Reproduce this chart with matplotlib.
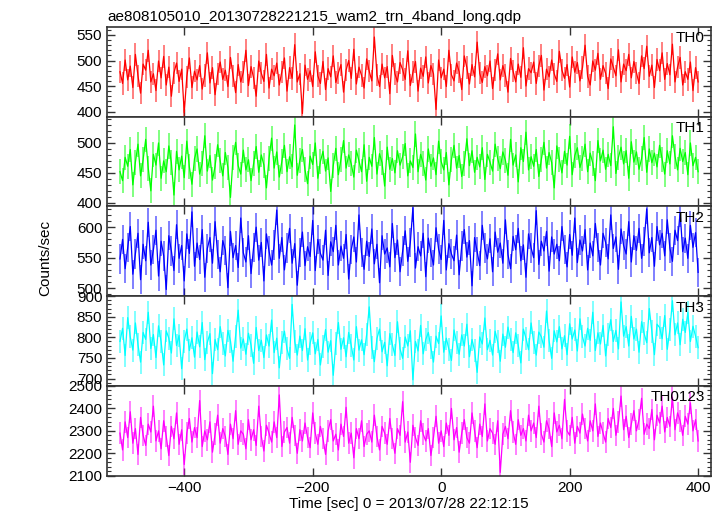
import numpy as np
import matplotlib
matplotlib.use("Agg")
import matplotlib.pyplot as plt
from matplotlib.ticker import MultipleLocator

plt.rcParams['font.family'] = ['Liberation Sans', 'DejaVu Sans']

title = "ae808105010_20130728221215_wam2_trn_4band_long.qdp"
names = ["TH0", "TH1", "TH2", "TH3", "TH0123"]
t_start, t_stop = -500, 400

# counts/sec (4 s steps)
th0 = [478, 455, 501, 462, 489, 447, 512, 470, 436, 493,
       481, 520, 458, 474, 441, 499, 466, 508, 452, 487,
       430, 476, 495, 459, 483, 398, 468, 505, 447, 479,
       462, 490, 444, 471, 515, 456, 486, 433, 474, 497,
       463, 481, 449, 506, 470, 437, 492, 458, 477, 520,
       451, 488, 466, 430, 499, 475, 459, 512, 446, 483,
       470, 495, 452, 478, 505, 440, 486, 465, 531, 458,
       474, 396, 491, 463, 480, 449, 517, 470, 455, 498,
       443, 484, 468, 509, 457, 476, 492, 438, 481, 500,
       465, 522, 454, 487, 471, 446, 503, 479, 460, 546,
       472, 449, 493, 466, 488, 435, 510, 474, 458, 496,
       482, 463, 519, 451, 477, 498, 440, 485, 469, 507,
       456, 490, 474, 404, 501, 466, 483, 449, 520, 472,
       460, 495, 478, 443, 509, 486, 454, 492, 468, 536,
       475, 457, 488, 470, 499, 445, 481, 513, 462, 490,
       471, 438, 504, 479, 458, 493, 467, 525, 450, 484,
       476, 497, 455, 489, 510, 442, 483, 468, 501, 474,
       459, 518, 481, 465, 492, 448, 507, 477, 496, 460,
       486, 530, 469, 452, 499, 481, 514, 463, 490, 475,
       445, 503, 487, 470, 521, 458, 493, 480, 512, 466,
       498, 476, 455, 509, 484, 528, 469, 491, 447, 502,
       480, 515, 463, 494, 472, 532, 458, 487, 506, 452,
       478, 463, 497, 441, 486, 458]

th1 = [452, 437, 476, 461, 489, 430, 468, 498, 445, 472,
       506, 458, 420, 481, 463, 500, 441, 470, 452, 495,
       467, 413, 486, 455, 478, 442, 503, 460, 431, 474,
       490, 448, 466, 512, 453, 479, 438, 461, 497, 470,
       445, 484, 459, 409, 476, 501, 462, 448, 488, 455,
       472, 437, 466, 494, 451, 480, 463, 425, 474, 508,
       458, 485, 443, 469, 496, 452, 477, 460, 530, 446,
       471, 489, 455, 432, 478, 464, 500, 441, 469, 486,
       453, 475, 419, 462, 491, 447, 473, 504, 458, 480,
       465, 443, 488, 470, 452, 497, 436, 476, 461, 509,
       448, 482, 467, 428, 493, 456, 474, 450, 487, 463,
       477, 499, 445, 470, 459, 515, 452, 481, 466, 438,
       490, 461, 475, 447, 503, 469, 455, 484, 430, 472,
       496, 458, 479, 444, 466, 507, 462, 487, 451, 476,
       460, 492, 439, 481, 468, 453, 498, 474, 457, 485,
       471, 446, 506, 463, 480, 435, 492, 469, 518, 455,
       477, 461, 489, 444, 473, 501, 458, 484, 467, 425,
       495, 472, 450, 486, 463, 511, 447, 479, 492, 459,
       474, 498, 452, 483, 466, 437, 504, 470, 488, 456,
       481, 462, 527, 449, 476, 493, 465, 487, 441, 502,
       468, 485, 456, 474, 509, 451, 490, 467, 483, 460,
       496, 473, 448, 487, 465, 512, 478, 455, 491, 469,
       484, 447, 500, 462, 476, 452]

th2 = [548, 580, 532, 567, 601, 523, 556, 590, 514, 572,
       545, 608, 538, 563, 595, 520, 577, 553, 498, 586,
       561, 529, 604, 549, 570, 512, 589, 557, 625, 536,
       574, 547, 596, 518, 565, 583, 541, 609, 555, 527,
       578, 562, 501, 593, 550, 570, 534, 615, 558, 543,
       586, 524, 567, 600, 546, 575, 512, 589, 561, 538,
       571, 628, 549, 583, 530, 566, 598, 541, 573, 505,
       559, 592, 537, 568, 552, 611, 529, 580, 557, 546,
       595, 521, 576, 560, 603, 538, 569, 549, 588, 515,
       563, 584, 543, 620, 558, 531, 577, 552, 597, 540,
       572, 509, 586, 556, 566, 535, 606, 550, 579, 527,
       561, 594, 544, 575, 632, 533, 568, 553, 590, 519,
       582, 558, 538, 599, 564, 547, 611, 530, 573, 556,
       545, 587, 522, 569, 596, 551, 578, 504, 583, 560,
       537, 603, 566, 548, 581, 527, 592, 559, 574, 541,
       612, 555, 532, 585, 563, 598, 545, 571, 518, 589,
       566, 550, 627, 539, 577, 561, 593, 528, 584, 556,
       572, 545, 601, 563, 535, 588, 554, 615, 542, 579,
       561, 596, 530, 574, 553, 606, 567, 538, 590, 575,
       548, 620, 565, 584, 531, 597, 570, 556, 609, 543,
       586, 562, 598, 549, 577, 630, 558, 583, 536, 601,
       571, 590, 553, 612, 566, 544, 595, 578, 624, 560,
       582, 549, 603, 567, 591, 526]

th3 = [790, 822, 756, 848, 801, 769, 835, 782, 740, 812,
       795, 861, 773, 807, 751, 828, 789, 733, 816, 798,
       762, 845, 780, 805, 724, 791, 820, 768, 799, 752,
       813, 777, 836, 746, 788, 809, 712, 795, 770, 826,
       784, 755, 817, 791, 742, 803, 866, 774, 796, 759,
       810, 781, 737, 824, 768, 793, 751, 806, 779, 842,
       763, 798, 726, 787, 815, 772, 749, 880, 790, 757,
       803, 768, 821, 745, 786, 811, 760, 795, 733, 778,
       819, 764, 792, 708, 785, 836, 771, 799, 753, 812,
       780, 745, 826, 769, 794, 758, 807, 874, 776, 741,
       797, 820, 765, 788, 731, 809, 783, 756, 838, 772,
       749, 801, 779, 816, 697, 790, 767, 829, 760, 795,
       812, 775, 740, 803, 785, 852, 764, 798, 771, 744,
       818, 787, 759, 806, 779, 832, 753, 795, 768, 715,
       801, 784, 847, 770, 793, 757, 815, 789, 742, 808,
       776, 825, 794, 763, 811, 781, 738, 820, 798, 770,
       835, 788, 757, 813, 801, 776, 864, 792, 749, 816,
       789, 826, 772, 804, 758, 833, 796, 818, 767, 845,
       801, 779, 822, 793, 861, 768, 811, 784, 829, 755,
       808, 843, 790, 817, 772, 886, 803, 826, 779, 851,
       796, 820, 764, 838, 809, 787, 870, 815, 758, 832,
       824, 797, 853, 771, 818, 889, 806, 835, 782, 844,
       812, 861, 790, 827, 803, 775]

th0123 = [2290, 2215, 2340, 2270, 2385, 2245, 2310, 2195, 2360, 2280,
          2235, 2330, 2295, 2410, 2255, 2300, 2220, 2345, 2275, 2190,
          2320, 2265, 2380, 2240, 2305, 2150, 2290, 2355, 2250, 2315,
          2270, 2435, 2230, 2300, 2260, 2340, 2205, 2285, 2370, 2245,
          2310, 2275, 2195, 2330, 2265, 2390, 2240, 2300, 2285, 2220,
          2350, 2260, 2305, 2235, 2410, 2275, 2210, 2325, 2290, 2250,
          2340, 2270, 2460, 2230, 2295, 2315, 2245, 2360, 2280, 2200,
          2305, 2255, 2335, 2270, 2225, 2380, 2290, 2240, 2320, 2265,
          2195, 2300, 2350, 2255, 2285, 2215, 2330, 2275, 2405, 2245,
          2290, 2180, 2310, 2265, 2345, 2230, 2285, 2300, 2250, 2370,
          2275, 2215, 2320, 2290, 2240, 2355, 2265, 2200, 2310, 2280,
          2430, 2250, 2295, 2160, 2325, 2270, 2235, 2345, 2285, 2255,
          2310, 2190, 2270, 2365, 2245, 2300, 2230, 2335, 2280, 2400,
          2260, 2315, 2205, 2290, 2350, 2270, 2245, 2380, 2300, 2225,
          2330, 2275, 2420, 2255, 2310, 2290, 2240, 2345, 2115, 2285,
          2320, 2265, 2390, 2295, 2240, 2350, 2280, 2310, 2255, 2370,
          2300, 2335, 2270, 2410, 2285, 2250, 2345, 2310, 2230, 2380,
          2295, 2325, 2265, 2440, 2300, 2280, 2360, 2245, 2320, 2290,
          2375, 2310, 2255, 2345, 2300, 2420, 2275, 2335, 2290, 2250,
          2355, 2315, 2400, 2280, 2340, 2455, 2305, 2365, 2270, 2330,
          2390, 2300, 2350, 2445, 2285, 2330, 2310, 2395, 2260, 2370,
          2335, 2410, 2295, 2360, 2320, 2450, 2305, 2380, 2345, 2280,
          2365, 2330, 2425, 2300, 2350, 2255]

series = [th0, th1, th2, th3, th0123]
errs = [22, 21, 24, 28, 48]  # typical error bar half-size per band

colors = ["#ff0000", "#00ff00", "#0000ff", "#00ffff", "#ff00ff"]
ylims = [(390, 566), (394, 544), (487, 634), (682, 900), (2100, 2500)]
majors = [50, 50, 50, 50, 100]
minors = [10, 10, 10, 10, 20]

fig, axes = plt.subplots(5, 1, sharex=True, figsize=(7.24, 5.16), dpi=100)
fig.subplots_adjust(left=0.148, right=0.982, top=0.948, bottom=0.078, hspace=0)

for i, ax in enumerate(axes):
    y = np.array(series[i])
    t = np.linspace(t_start, t_stop, len(y))
    ax.vlines(t, y - errs[i], y + errs[i], color=colors[i], lw=1.4, alpha=0.5)
    ax.plot(t, y, color=colors[i], lw=0.9)
    ax.set_ylim(*ylims[i])
    ax.set_xlim(-520, 420)
    ax.yaxis.set_major_locator(MultipleLocator(majors[i]))
    ax.yaxis.set_minor_locator(MultipleLocator(minors[i]))
    ax.xaxis.set_major_locator(MultipleLocator(200))
    ax.tick_params(which='both', direction='in', top=True, right=True,
                   labelsize=11, color='#333333')
    ax.tick_params(which='major', length=6, width=1)
    ax.tick_params(which='minor', length=3, width=0.8)
    for s in ax.spines.values():
        s.set_linewidth(1.2)
        s.set_color('#333333')
    ax.text(0.99, 0.95, names[i], transform=ax.transAxes, ha='right', va='top',
            fontsize=11)

axes[0].set_title(title, loc='left', fontsize=11, pad=4)
axes[-1].set_xlabel("Time [sec] 0 = 2013/07/28 22:12:15", fontsize=11, labelpad=2)
fig.text(0.062, 0.5, "Counts/sec", rotation=90, va='center', ha='center', fontsize=11)

fig.savefig("out.png", dpi=100)
